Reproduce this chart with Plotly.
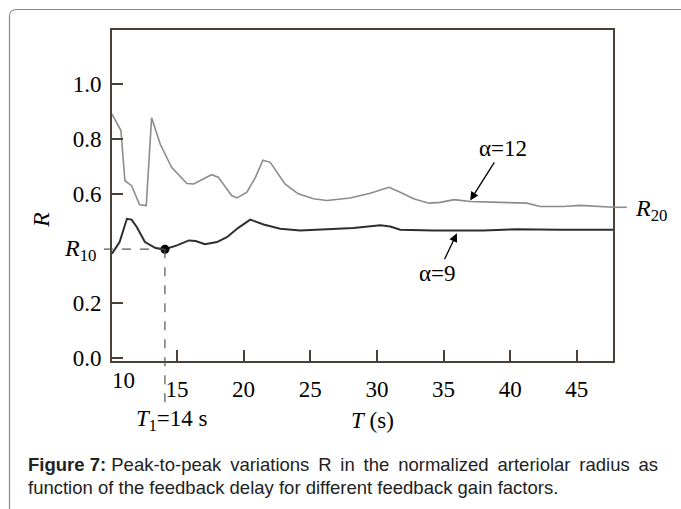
import plotly.graph_objects as go

# ---------------- data ----------------
t_alpha12 = [10.13, 10.8, 11.1, 11.6, 12.2, 12.7, 13.1, 13.75, 14.6, 15.75, 16.25, 16.9,
             17.6, 18.1, 19.1, 19.5, 20.25, 20.9, 21.45, 22.0, 23.1, 24.1, 25.25, 26.25,
             27.25, 28.0, 29.5, 30.9, 31.75, 32.75, 33.9, 34.75, 35.8, 37.0, 39.25, 41.25,
             42.25, 44.0, 45.25, 46.75, 47.71]
r_alpha12 = [0.89, 0.83, 0.647, 0.629, 0.559, 0.556, 0.877, 0.78, 0.696, 0.637, 0.635, 0.65,
             0.669, 0.66, 0.593, 0.584, 0.605, 0.66, 0.722, 0.714, 0.635, 0.599, 0.581, 0.575,
             0.581, 0.584, 0.601, 0.623, 0.605, 0.581, 0.565, 0.568, 0.578, 0.571, 0.568, 0.565,
             0.553, 0.553, 0.557, 0.553, 0.55]

t_alpha9 = [10.13, 10.7, 11.25, 11.6, 12.0, 12.6, 13.4, 14.1, 15.0, 15.9, 16.4, 17.1, 18.0,
            18.75, 19.6, 20.5, 21.5, 22.75, 24.25, 26.0, 28.25, 30.25, 31.0, 31.75, 34.25,
            38.0, 40.5, 43.75, 47.71]
r_alpha9 = [0.381, 0.423, 0.508, 0.505, 0.477, 0.423, 0.401, 0.397, 0.411, 0.429, 0.427, 0.415,
            0.423, 0.441, 0.475, 0.505, 0.487, 0.472, 0.465, 0.468, 0.474, 0.484, 0.48, 0.468,
            0.465, 0.465, 0.47, 0.468, 0.468]

T1 = 14.1
R10 = 0.397
R20_end = 48.75          # end of the R20 leader beyond the plot

x_tickvals = [15, 20, 25, 30, 35, 40, 45]
x_ticktext = ["15", "20", "25", "30", "35", "40", "45"]
y_tickvals = [0.0, 0.2, 0.6, 0.8, 1.0]
y_ticktext = ["0.0", "0.2", "0.6", "0.8", "1.0"]

X_RANGE = [10.13, 47.71]
Y_RANGE = [-0.011, 1.197]

caption_line1 = "Peak-to-peak variations R in the normalized arteriolar radius as"
caption_line2 = "function of the feedback delay for different feedback gain factors."

# ---------------- layout geometry ----------------
W, H = 681, 509
ML, MR, MT, MB = 112, 68, 30, 148
PW, PH = W - ML - MR, H - MT - MB

def px(xpix):
    return (xpix - ML) / PW

def py(ypix):
    return (H - MB - ypix) / PH

def dx(x):
    return (x - X_RANGE[0]) / (X_RANGE[1] - X_RANGE[0])

def dy(y):
    return (y - Y_RANGE[0]) / (Y_RANGE[1] - Y_RANGE[0])

SERIF = "Liberation Serif"
AXC = "#4a4238"

fig = go.Figure()
fig.add_trace(go.Scatter(x=t_alpha12, y=r_alpha12, mode="lines",
                         line=dict(color="#8c8c8c", width=1.6), showlegend=False))
fig.add_trace(go.Scatter(x=t_alpha9, y=r_alpha9, mode="lines",
                         line=dict(color="#2e2e2e", width=2), showlegend=False))
fig.add_trace(go.Scatter(x=[T1], y=[R10], mode="markers",
                         marker=dict(color="black", size=9), showlegend=False,
                         cliponaxis=False))

shapes = []
# dashed guides
shapes.append(dict(type="line", xref="paper", yref="paper",
                   x0=px(104), x1=dx(T1), y0=dy(R10), y1=dy(R10),
                   line=dict(color="#555", width=1.2, dash="dash")))
shapes.append(dict(type="line", xref="paper", yref="paper",
                   x0=dx(T1), x1=dx(T1), y0=dy(R10), y1=py(406),
                   line=dict(color="#555", width=1.2, dash="dash")))
# R20 leader beyond the right axis
shapes.append(dict(type="line", xref="paper", yref="paper",
                   x0=dx(t_alpha12[-1]), x1=dx(R20_end), y0=dy(r_alpha12[-1]), y1=dy(r_alpha12[-1]),
                   line=dict(color="#8c8c8c", width=1.6)))
# outer rounded frame (top-left corner visible)
fx, fy, r = 9.5, 9.5, 7
path = (f"M {px(fx)},{py(520)} L {px(fx)},{py(fy + r)} "
        f"Q {px(fx)},{py(fy)} {px(fx + r)},{py(fy)} L {px(700)},{py(fy)}")
shapes.append(dict(type="path", xref="paper", yref="paper", path=path,
                   line=dict(color="#8a8a8a", width=1.2)))

ann = []
def label(text, xpix, ypix, size=23, **kw):
    ann.append(dict(text=text, xref="paper", yref="paper", x=px(xpix), y=py(ypix),
                    showarrow=False, font=dict(family=SERIF, size=size, color="black"),
                    xanchor="center", yanchor="middle", **kw))

label("10", 123, 380)
label("<i>R</i>", 41, 220, size=24, textangle=-90)
label("<i>R</i><sub>10</sub>", 80, 250, size=24)
label("<i>R</i><sub>20</sub>", 651, 210, size=24)
label("<i>T</i><sub>1</sub>=14 s", 172, 420, size=23)
label("<i>T</i> (s)", 372, 420, size=23)

# arrows
ann.append(dict(x=37.0, y=0.575, xref="x", yref="y", ax=33, ay=-52,
                text="α=12", showarrow=True, arrowhead=2, arrowsize=1.3, arrowwidth=1.3,
                arrowcolor="black", standoff=0,
                font=dict(family=SERIF, size=23, color="black")))
ann.append(dict(x=36.0, y=0.455, xref="x", yref="y", ax=-19, ay=40,
                text="α=9", showarrow=True, arrowhead=2, arrowsize=1.3, arrowwidth=1.3,
                arrowcolor="black", standoff=0,
                font=dict(family=SERIF, size=23, color="black")))

# caption (first line justified by widening the word gaps with thin spaces)
CAP = "Liberation Sans, Arial, sans-serif"
line1 = "<b>Figure 7:</b> " + caption_line1.replace(" ", " \u2009")
ann.append(dict(text=line1,
                xref="paper", yref="paper", x=px(26), y=py(464), xanchor="left", yanchor="middle",
                showarrow=False, font=dict(family=CAP, size=18.5, color="#222")))
ann.append(dict(text=caption_line2,
                xref="paper", yref="paper", x=px(26), y=py(487), xanchor="left", yanchor="middle",
                showarrow=False, font=dict(family=CAP, size=18.5, color="#222")))

fig.update_layout(
    width=W, height=H, margin=dict(l=ML, r=MR, t=MT, b=MB, pad=0),
    paper_bgcolor="white", plot_bgcolor="white",
    shapes=shapes, annotations=ann,
    xaxis=dict(range=X_RANGE, tickvals=x_tickvals, ticktext=x_ticktext,
               ticks="inside", ticklen=11, tickwidth=2, tickcolor=AXC,
               showline=True, linecolor=AXC, linewidth=2, mirror=True,
               showgrid=False, zeroline=False, ticklabelstandoff=6,
               tickfont=dict(family=SERIF, size=23, color="black")),
    yaxis=dict(range=Y_RANGE, tickvals=y_tickvals, ticktext=y_ticktext,
               ticks="inside", ticklen=11, tickwidth=2, tickcolor=AXC,
               showline=True, linecolor=AXC, linewidth=2, mirror=True,
               showgrid=False, zeroline=False, ticklabelstandoff=4,
               tickfont=dict(family=SERIF, size=23, color="black")),
)

fig.write_html("out.html")
